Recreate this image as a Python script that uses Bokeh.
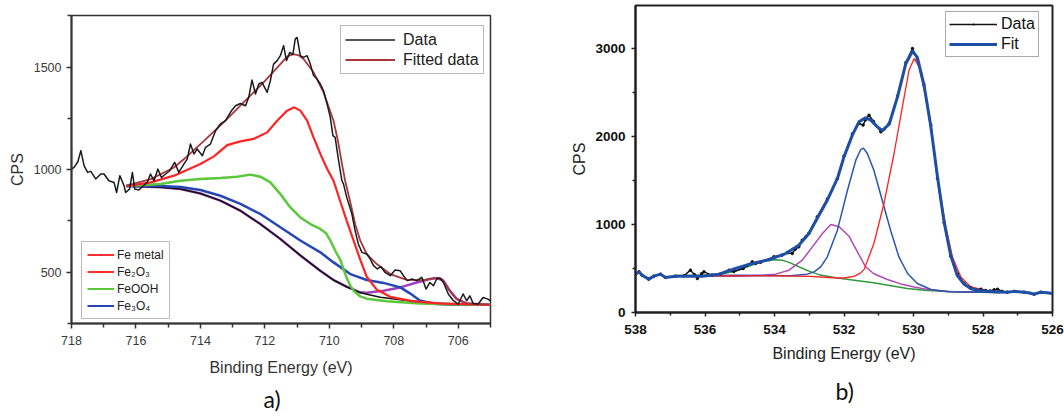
from bokeh.plotting import figure
from bokeh.layouts import row, column
from bokeh.models import Range1d, FixedTicker, Legend, LegendItem, Title
from bokeh.embed import file_html
from bokeh.resources import INLINE

# ---------------- panel a) : Fe 2p ----------------
be_data_a = [718.00, 717.92, 717.80, 717.71, 717.61, 717.50, 717.40, 717.25, 717.09, 716.99,
             716.84, 716.68, 716.60, 716.50, 716.37, 716.32, 716.20, 716.11, 716.04, 715.91,
             715.77, 715.65, 715.55, 715.44, 715.32, 715.21, 715.08, 714.95, 714.80, 714.67,
             714.51, 714.41, 714.31, 714.20, 714.10, 713.94, 713.84, 713.69, 713.53, 713.38,
             713.22, 713.05, 712.91, 712.76, 712.60, 712.50, 712.40, 712.29, 712.19, 712.09,
             711.93, 711.83, 711.73, 711.62, 711.52, 711.42, 711.33, 711.23, 711.13, 711.06,
             711.00, 710.90, 710.80, 710.69, 710.59, 710.49, 710.38, 710.28, 710.18, 710.07,
             709.97, 709.89, 709.82, 709.72, 709.61, 709.56, 709.46, 709.30, 709.20, 709.10,
             708.99, 708.84, 708.73, 708.63, 708.51, 708.40, 708.27, 708.11, 707.96, 707.80,
             707.70, 707.58, 707.44, 707.29, 707.13, 707.00, 706.88, 706.77, 706.67, 706.57,
             706.46, 706.31, 706.15, 706.00, 705.85, 705.74, 705.64, 705.54, 705.38, 705.23,
             705.08, 705.00]
cps_data_a = [1003, 1011, 1040, 1093, 1020, 987, 992, 955, 979, 979,
              946, 938, 889, 971, 922, 889, 905, 987, 906, 901,
              922, 938, 979, 946, 1003, 962, 979, 995, 1036, 987,
              1028, 1052, 1125, 1077, 1101, 1068, 1109, 1125, 1190, 1223,
              1239, 1285, 1312, 1323, 1312, 1353, 1437, 1369, 1418, 1426,
              1377, 1434, 1515, 1532, 1556, 1605, 1532, 1572, 1562, 1637,
              1645, 1556, 1548, 1556, 1515, 1459, 1442, 1418, 1385, 1320,
              1255, 1166, 1158, 1052, 946, 930, 865, 784, 702, 638,
              597, 589, 564, 532, 516, 527, 499, 483, 511, 507,
              483, 459, 467, 459, 475, 418, 450, 434, 467, 472,
              450, 394, 361, 345, 394, 361, 385, 348, 345, 377,
              369, 360]

be_fit_a = [716.30, 715.54, 714.82, 714.51, 713.89, 713.28, 712.66, 712.04, 711.52, 711.30,
            711.11, 710.95, 710.80, 710.49, 710.18, 709.87, 709.72, 709.61, 709.51, 709.36,
            709.20, 709.04, 708.84, 708.53, 708.11, 707.60, 707.08, 706.67, 706.51, 706.31,
            706.05, 705.74, 705.07]
cps_fit_a = [922, 954, 1011, 1052, 1141, 1231, 1328, 1426, 1515, 1553,
             1564, 1558, 1540, 1475, 1377, 1239, 1130, 1030, 946, 849,
             735, 654, 589, 540, 491, 463, 462, 472, 467, 418,
             369, 348, 341]

be_fe2o3 = [716.30, 715.54, 714.82, 714.00, 713.58, 713.17, 712.76, 712.35, 711.93, 711.62,
            711.31, 711.09, 710.90, 710.69, 710.49, 710.28, 710.07, 709.87, 709.66, 709.46,
            709.25, 709.04, 708.84, 708.53, 708.11, 707.39, 706.50, 705.00]
cps_fe2o3 = [920, 938, 971, 1028, 1065, 1120, 1138, 1150, 1182, 1239,
             1288, 1304, 1288, 1239, 1158, 1077, 1005, 946, 845, 750,
             655, 560, 478, 415, 380, 358, 347, 341]

be_feooh = [716.30, 715.24, 714.62, 714.00, 713.38, 712.86, 712.45, 712.14, 711.83, 711.52,
            711.21, 710.90, 710.59, 710.28, 710.10, 709.97, 709.80, 709.66, 709.56, 709.46,
            709.35, 709.25, 709.04, 708.84, 708.22, 707.19, 706.00, 705.00]
cps_feooh = [920, 930, 946, 955, 960, 966, 976, 966, 938, 881,
             816, 767, 735, 711, 690, 655, 600, 560, 515, 472,
             435, 410, 382, 371, 358, 348, 343, 341]

be_fe3o4 = [716.30, 715.24, 714.62, 714.00, 713.38, 712.76, 712.14, 711.52, 710.90, 710.28,
            709.87, 709.35, 708.84, 708.32, 707.80, 707.50, 707.19, 706.77, 706.20, 705.00]
cps_fe3o4 = [920, 921, 916, 901, 873, 833, 784, 719, 655, 597,
             548, 491, 462, 448, 426, 397, 362, 346, 342, 341]

be_base_a = [716.30, 715.24, 714.62, 714.00, 713.38, 712.76, 712.14, 711.52, 710.90, 710.28,
             709.87, 709.46, 709.04, 708.42, 707.60, 706.67, 705.70, 705.00]
cps_base_a = [920, 914, 906, 884, 849, 800, 735, 662, 582, 507,
              462, 428, 400, 378, 362, 350, 344, 341]

be_femetal = [716.30, 715.24, 714.62, 714.00, 713.38, 712.76, 712.14, 711.52, 710.90, 710.28,
              709.87, 709.46, 709.04, 708.84, 708.32, 707.80, 707.29, 706.88, 706.67, 706.46,
              706.26, 706.05, 705.74, 705.00]
cps_femetal = [920, 914, 906, 884, 849, 800, 735, 662, 582, 507,
               462, 430, 402, 400, 410, 426, 450, 467, 472, 459,
               410, 370, 347, 341]

xticks_a = [718, 716, 714, 712, 710, 708, 706]
yticks_a = [500, 1000, 1500]

# ---------------- panel b) : O 1s ----------------
be_data_b = [538.00, 537.90, 537.81, 537.62, 537.47, 537.28, 537.14, 536.85, 536.60, 536.42,
             536.30, 536.22, 536.10, 536.03, 535.80, 535.55, 535.31, 535.17, 534.90, 534.78,
             534.64, 534.54, 534.40, 534.16, 534.02, 533.78, 533.63, 533.49, 533.40, 533.30,
             533.20, 533.10, 533.01, 532.77, 532.48, 532.19, 532.00, 531.76, 531.57, 531.45,
             531.38, 531.28, 531.15, 530.94, 530.85, 530.70, 530.46, 530.22, 530.03, 529.89,
             529.70, 529.50, 529.31, 529.12, 528.93, 528.74, 528.54, 528.35, 528.20, 528.06,
             527.92, 527.80, 527.68, 527.58, 527.45, 527.30, 527.10, 526.82, 526.53, 526.34,
             526.00]
cps_data_b = [436, 462, 424, 379, 413, 436, 398, 413, 418, 481,
              430, 386, 440, 462, 425, 440, 481, 465, 500, 535,
              576, 557, 570, 600, 633, 652, 680, 670, 720, 746,
              822, 860, 900, 1087, 1290, 1520, 1780, 2030, 2148, 2130,
              2190, 2242, 2170, 2053, 2080, 2150, 2460, 2840, 3000, 2880,
              2590, 2130, 1520, 1020, 640, 440, 330, 280, 255, 265,
              250, 245, 258, 265, 240, 231, 240, 231, 208, 231,
              216]

be_fit_b = [538.00, 537.90, 537.81, 537.62, 537.47, 537.28, 537.14, 536.85, 536.08, 535.60,
            535.12, 534.64, 534.16, 533.68, 533.30, 533.01, 532.72, 532.48, 532.19, 532.00,
            531.76, 531.57, 531.38, 531.23, 531.04, 530.90, 530.70, 530.46, 530.22, 530.03,
            529.89, 529.70, 529.50, 529.31, 529.12, 528.93, 528.74, 528.54, 528.35, 528.06,
            527.68, 527.30, 527.10, 526.82, 526.65, 526.53, 526.34, 526.15, 526.00]
cps_fit_b = [436, 462, 424, 379, 413, 436, 398, 413, 413, 436,
             500, 557, 602, 670, 765, 898, 1106, 1276, 1523, 1769,
             2015, 2167, 2212, 2186, 2110, 2068, 2140, 2450, 2830, 2970,
             2900, 2590, 2110, 1541, 1030, 650, 420, 320, 270, 246,
             235, 231, 240, 231, 222, 208, 231, 225, 216]

be_red_b = [536.90, 534.00, 533.00, 532.30, 532.00, 531.71, 531.52, 531.42, 531.14, 530.85,
            530.56, 530.32, 530.13, 529.98, 529.84, 529.65, 529.45, 529.26, 529.07, 528.88,
            528.64, 528.35, 527.87, 527.50]
cps_red_b = [418, 416, 410, 395, 392, 410, 450, 490, 784, 1239,
             1807, 2336, 2753, 2886, 2791, 2450, 1958, 1427, 973, 632,
             405, 291, 245, 235]

be_blue_b = [536.90, 535.00, 533.54, 533.06, 532.86, 532.67, 532.48, 532.19, 531.90, 531.66,
             531.52, 531.44, 531.33, 531.14, 530.90, 530.66, 530.42, 530.17, 529.89, 529.50,
             529.02, 528.00, 527.50]
cps_blue_b = [418, 422, 417, 436, 462, 519, 633, 936, 1390, 1731,
              1850, 1868, 1807, 1617, 1276, 935, 632, 443, 330, 261,
              236, 230, 228]

be_mag_b = [536.90, 535.12, 534.35, 533.97, 533.58, 533.20, 532.91, 532.62, 532.38, 532.14,
            531.86, 531.71, 531.52, 531.38, 531.14, 530.75, 530.37, 529.98, 529.60, 529.00,
            528.00, 527.50]
cps_mag_b = [418, 413, 424, 436, 481, 595, 746, 898, 1000, 975,
             870, 760, 620, 520, 440, 375, 325, 290, 262, 240,
             230, 228]

be_green_b = [536.90, 536.00, 535.50, 535.12, 534.78, 534.40, 534.16, 533.97, 533.78, 533.58,
              533.30, 533.01, 532.72, 532.24, 531.76, 531.15, 530.56, 530.18, 529.60, 528.64,
              528.00, 527.50]
cps_green_b = [420, 424, 440, 470, 520, 575, 595, 600, 595, 570,
               520, 470, 430, 395, 370, 337, 299, 273, 250, 234,
               230, 228]

xticks_b = [538, 536, 534, 532, 530, 528, 526]
yticks_b = [0, 1000, 2000, 3000]

FONT = "Liberation Sans"
CAPTION_FONT = "Lato"

# ======================= figure a =======================
p1 = figure(width=540, height=417, x_range=Range1d(718, 705), y_range=Range1d(250, 1752),
            output_backend="svg", toolbar_location=None,
            min_border_left=71, min_border_right=50, min_border_top=15, min_border_bottom=94)
p1.xgrid.visible = False
p1.ygrid.visible = False
p1.outline_line_color = "#333333"
p1.outline_line_width = 1.5
p1.xaxis.ticker = FixedTicker(ticks=xticks_a, minor_ticks=[t - 1 for t in xticks_a])
p1.yaxis.ticker = FixedTicker(ticks=yticks_a, minor_ticks=[t + 250 for t in yticks_a] + [250])
p1.xaxis.axis_label = "Binding Energy (eV)"
p1.yaxis.axis_label = "CPS"
for ax in (p1.xaxis[0], p1.yaxis[0]):
    ax.axis_line_width = 2
    ax.axis_line_color = "#333333"
    ax.major_tick_out = 5
    ax.major_tick_in = 0
    ax.minor_tick_out = 4
    ax.minor_tick_in = 0
    ax.major_tick_line_color = "#333333"
    ax.minor_tick_line_color = "#333333"
    ax.major_tick_line_width = 1.5
    ax.minor_tick_line_width = 1.5
    ax.major_label_text_font = FONT
    ax.major_label_text_font_size = "12.5px"
    ax.major_label_text_color = "#3a3a3a"
    ax.axis_label_text_font = FONT
    ax.axis_label_text_font_size = "16px"
    ax.axis_label_text_font_style = "normal"
    ax.axis_label_text_color = "#333333"
p1.xaxis.major_label_standoff = 7
p1.xaxis.axis_label_standoff = 11
p1.yaxis.major_label_standoff = 5
p1.yaxis.axis_label_standoff = 5

p1.line(be_femetal, cps_femetal, line_color="#a040c0", line_width=2.5)
p1.line(be_base_a, cps_base_a, line_color="#111111", line_width=1.5)
p1.line(be_fe3o4, cps_fe3o4, line_color="#2646b4", line_width=2.5)
p1.line(be_feooh, cps_feooh, line_color="#5ac83a", line_width=2.5)
p1.line(be_fe2o3, cps_fe2o3, line_color="#ff2424", line_width=2.2)
r_fit_a = p1.line(be_fit_a, cps_fit_a, line_color="#a8383e", line_width=1.8, line_join="round")
r_data_a = p1.line(be_data_a, cps_data_a, line_color="#1a1a1a", line_width=1.5, line_join="round")

# hidden proxy renderers that only supply the legend glyphs
l_red = p1.line(be_fe2o3, cps_fe2o3, line_color="#ff3030", line_width=2, visible=False)
m_purple = p1.scatter(be_femetal, cps_femetal, marker="dot", size=9, line_color="#7030c0",
                      fill_color="#7030c0", visible=False)
m_red = p1.scatter(be_fe2o3, cps_fe2o3, marker="dot", size=9, line_color="#e01010",
                   fill_color="#e01010", visible=False)
l_green = p1.line(be_feooh, cps_feooh, line_color="#5ac83a", line_width=2, visible=False)
l_blue = p1.line(be_fe3o4, cps_fe3o4, line_color="#2646b4", line_width=2, visible=False)
m_blue = p1.scatter(be_fe3o4, cps_fe3o4, marker="dot", size=9, line_color="#1a30a0",
                    fill_color="#1a30a0", visible=False)

leg1 = Legend(items=[LegendItem(label="Data", renderers=[r_data_a]),
                     LegendItem(label="Fitted data", renderers=[r_fit_a])],
              location=(269, 249), margin=0, padding=4, spacing=1,
              glyph_width=50, glyph_height=19, label_height=19, label_standoff=8,
              label_text_font=FONT, label_text_font_size="16px", label_text_color="#222222",
              border_line_color="#777777", border_line_width=1.5)
leg2 = Legend(items=[LegendItem(label="Fe metal", renderers=[l_red, m_purple]),
                     LegendItem(label="Fe₂O₃", renderers=[l_red, m_red]),
                     LegendItem(label="FeOOH", renderers=[l_green]),
                     LegendItem(label="Fe₃O₄", renderers=[l_blue, m_blue])],
              location=(10, 4), margin=0, padding=5, spacing=2,
              glyph_width=27, glyph_height=15, label_height=15, label_standoff=3,
              label_text_font=FONT, label_text_font_size="12px", label_text_color="#222222",
              border_line_color="#777777", border_line_width=1.5)
p1.add_layout(leg1)
p1.add_layout(leg2)
p1.add_layout(Title(text="a)", align="left", offset=192, standoff=8,
                    text_font=CAPTION_FONT, text_font_size="23px", text_font_style="normal",
                    text_color="#111111"), "below")

# ======================= figure b =======================
p2 = figure(width=524, height=417, x_range=Range1d(538, 526), y_range=Range1d(0, 3489),
            output_backend="svg", toolbar_location=None,
            min_border_left=95, min_border_right=12, min_border_top=5, min_border_bottom=105)
p2.xgrid.visible = False
p2.ygrid.visible = False
p2.outline_line_color = "#222222"
p2.outline_line_width = 2
p2.xaxis.ticker = FixedTicker(ticks=xticks_b, minor_ticks=[t - 1 for t in xticks_b])
p2.yaxis.ticker = FixedTicker(ticks=yticks_b, minor_ticks=[t + 500 for t in yticks_b])
p2.xaxis.axis_label = "Binding Energy (eV)"
p2.yaxis.axis_label = "CPS"
for ax in (p2.xaxis[0], p2.yaxis[0]):
    ax.axis_line_width = 2
    ax.axis_line_color = "#222222"
    ax.major_tick_out = 4
    ax.major_tick_in = 0
    ax.minor_tick_out = 3
    ax.minor_tick_in = 0
    ax.major_tick_line_color = "#222222"
    ax.minor_tick_line_color = "#222222"
    ax.major_tick_line_width = 1.5
    ax.minor_tick_line_width = 1.5
    ax.major_label_text_font = FONT
    ax.major_label_text_font_size = "13.5px"
    ax.major_label_text_font_style = "bold"
    ax.major_label_text_color = "#111111"
    ax.axis_label_text_font = FONT
    ax.axis_label_text_font_size = "16px"
    ax.axis_label_text_font_style = "normal"
    ax.axis_label_text_color = "#222222"
p2.xaxis.major_label_standoff = 8
p2.xaxis.axis_label_standoff = 8
p2.yaxis.major_label_standoff = 6
p2.yaxis.axis_label_standoff = 4

p2.line(be_green_b, cps_green_b, line_color="#2e9a3e", line_width=1.5)
p2.line(be_mag_b, cps_mag_b, line_color="#b04ab4", line_width=1.5)
p2.line(be_blue_b, cps_blue_b, line_color="#2a55b0", line_width=1.5)
p2.line(be_red_b, cps_red_b, line_color="#ff2020", line_width=1.3)
r_data_b = p2.line(be_data_b, cps_data_b, line_color="#111111", line_width=1.5, line_join="round")
p2.scatter(be_data_b, cps_data_b, marker="circle", size=2.5, color="#111111")
r_fit_b = p2.line(be_fit_b, cps_fit_b, line_color="#1f4fa5", line_width=3, line_join="round")

m_black = p2.scatter(be_data_b, cps_data_b, marker="dot", size=9, line_color="#111111",
                     fill_color="#111111", visible=False)
leg3 = Legend(items=[LegendItem(label="Data", renderers=[r_data_b, m_black]),
                     LegendItem(label="Fit", renderers=[r_fit_b])],
              location=(310, 255), margin=0, padding=3, spacing=2,
              glyph_width=48, glyph_height=18, label_height=18, label_standoff=4,
              label_text_font=FONT, label_text_font_size="16px", label_text_color="#111111",
              border_line_color="#555555", border_line_width=1.5)
p2.add_layout(leg3)
p2.add_layout(Title(text="b)", align="left", offset=200, standoff=20,
                    text_font=CAPTION_FONT, text_font_size="23px", text_font_style="normal",
                    text_color="#111111"), "below")

# each panel keeps its own frame (no cross-panel frame alignment)
for p in (p1, p2):
    if "frame_align" in p.properties():
        p.frame_align = False

layout = row(column(p1), column(p2))
open("out.html", "w").write(file_html(layout, INLINE))
